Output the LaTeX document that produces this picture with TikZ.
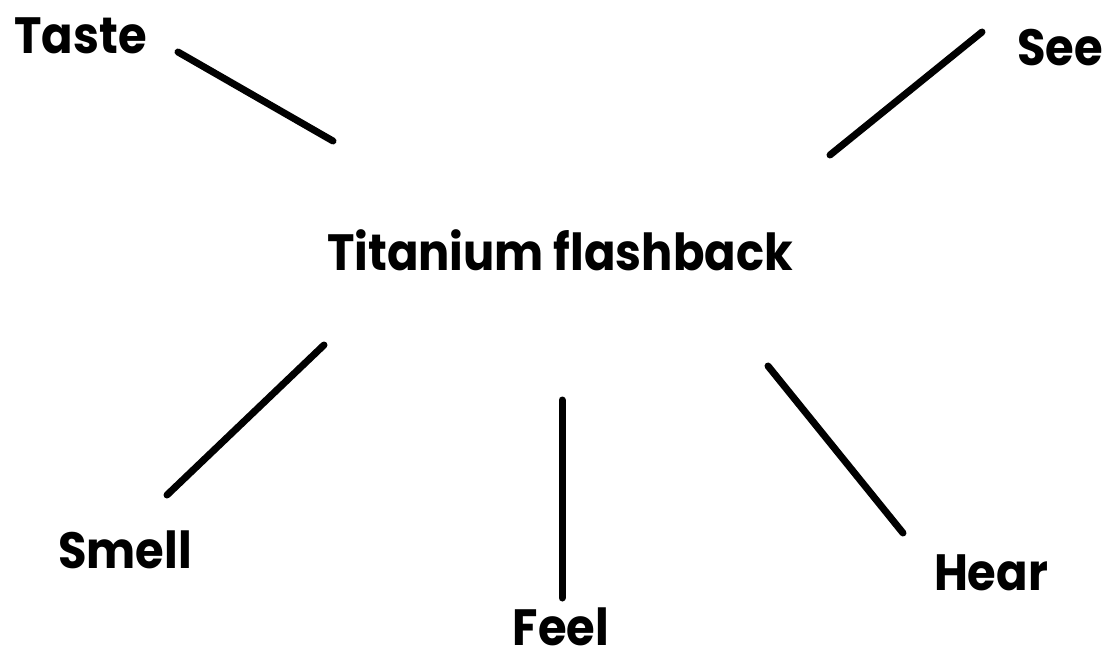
\documentclass[tikz,border=0pt]{standalone}
\usepackage{fontspec}
\setmainfont{Poppins}
\newcommand{\narrowtext}[1]{\scalebox{0.91}[1]{#1}}
\tikzset{
  lbl/.style={anchor=base, inner sep=0pt, font=\fontsize{51}{60}\selectfont\bfseries},
  spoke/.style={line width=7pt, line cap=round, black}
}
\begin{document}
\begin{tikzpicture}[x=1pt,y=-1pt]
\useasboundingbox (0,0) rectangle (1109,656);
\node[lbl] (center) at (560,270) {\narrowtext{Titanium flashback}};
\node[lbl] (taste) at (80.5,53) {\narrowtext{Taste}};
\node[lbl] (see) at (1060,65) {\narrowtext{See}};
\node[lbl] (smell) at (125,568) {\narrowtext{Smell}};
\node[lbl] (feel) at (561,645) {\narrowtext{Feel}};
\node[lbl] (hear) at (991,590) {\narrowtext{Hear}};
\coordinate (tasteA) at (178,52);
\coordinate (tasteB) at (333,141);
\coordinate (seeA) at (982,32);
\coordinate (seeB) at (830,155);
\coordinate (smellA) at (324,345);
\coordinate (smellB) at (167,495);
\coordinate (feelA) at (562,400);
\coordinate (feelB) at (562,598);
\coordinate (hearA) at (768,366);
\coordinate (hearB) at (903,533);
\draw[spoke] (tasteA) -- (tasteB);
\draw[spoke] (seeA) -- (seeB);
\draw[spoke] (smellA) -- (smellB);
\draw[spoke] (feelA) -- (feelB);
\draw[spoke] (hearA) -- (hearB);
\end{tikzpicture}
\end{document}
